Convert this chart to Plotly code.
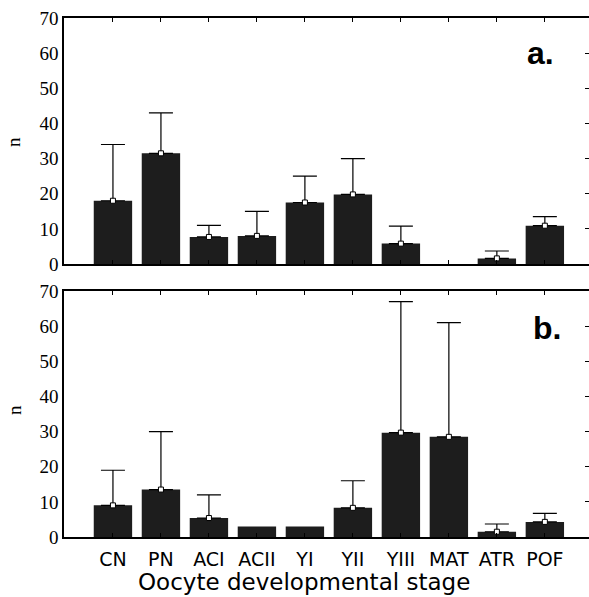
import plotly.graph_objects as go

categories = ["CN", "PN", "ACI", "ACII", "YI", "YII", "YIII", "MAT", "ATR", "POF"]
a_mean = [18.0, 31.5, 7.7, 8.0, 17.5, 19.8, 5.8, 0.0, 1.6, 10.9]
a_upper = [34, 43, 11, 15, 25, 30, 10.8, None, 3.7, 13.5]
b_mean = [9.0, 13.5, 5.4, 3.0, 3.0, 8.3, 29.7, 28.5, 1.5, 4.3]
b_upper = [19, 30, 12, None, None, 16, 67, 61, 3.7, 6.7]
y_ticks = [0, 10, 20, 30, 40, 50, 60, 70]

W, H = 589, 597
ML, MR, MT, MB = 64, 0, 18, 60
PW = W - ML - MR
PH = H - MT - MB


def px_x(x):
    return (x - ML) / PW


def px_y(y):
    return (H - MB - y) / PH


BAR = "#1d1d1d"
SERIF = "Liberation Serif"
fig = go.Figure()

panels = [("x", "y", "y3", a_mean, a_upper), ("x2", "y2", "y4", b_mean, b_upper)]
for xa, ya, yr, mean, upper in panels:
    fig.add_trace(go.Bar(x=categories, y=mean, xaxis=xa, yaxis=ya, width=0.8,
                         marker=dict(color=BAR, line=dict(width=0)), showlegend=False))
    cx = [c for c, u in zip(categories, upper) if u is not None]
    cy = [m for m, u in zip(mean, upper) if u is not None]
    ce = [u - m for m, u in zip(mean, upper) if u is not None]
    fig.add_trace(go.Scatter(x=cx, y=cy, xaxis=xa, yaxis=ya, mode="markers",
                             marker=dict(symbol="square", size=5, color="white",
                                         line=dict(color="black", width=1)),
                             error_y=dict(type="data", symmetric=False, array=ce,
                                          arrayminus=[0] * len(ce), color="black",
                                          thickness=1.2, width=12),
                             showlegend=False))
    fig.add_trace(go.Scatter(x=[categories[0]], y=[0], xaxis=xa, yaxis=yr, mode="markers",
                             marker=dict(opacity=0), showlegend=False, hoverinfo="skip"))

xcommon = dict(type="category", range=[-1.02, 9.92], showline=True, linecolor="black",
               linewidth=1.5, mirror="ticks", ticks="inside", ticklen=4, tickcolor="black",
               tickwidth=1.2, showgrid=False, zeroline=False,
               tickfont=dict(family="DejaVu Sans", size=19, color="black"))
ycommon = dict(range=[0, 70], tickvals=y_ticks, showline=True, linecolor="black",
               linewidth=1.5, ticks="", showgrid=False, zeroline=False,
               tickfont=dict(family=SERIF, size=19, color="black"))
yright = dict(range=[0, 70], tickvals=y_ticks, showline=False, ticks="inside", ticklen=4,
              tickcolor="black", tickwidth=1.2, showticklabels=False, showgrid=False,
              zeroline=False, side="right")

top_dom = [px_y(264), 1.0]
bot_dom = [0.0, px_y(291)]

fig.update_layout(
    width=W, height=H, margin=dict(l=ML, r=MR, t=MT, b=MB, autoexpand=False),
    paper_bgcolor="white", plot_bgcolor="white", bargap=0.2,
    xaxis=dict(xcommon, anchor="y", showticklabels=False),
    xaxis2=dict(xcommon, anchor="y2", showticklabels=True, ticklabelstandoff=4),
    yaxis=dict(ycommon, domain=top_dom, anchor="x"),
    yaxis2=dict(ycommon, domain=bot_dom, anchor="x2"),
    yaxis3=dict(yright, overlaying="y", anchor="x"),
    yaxis4=dict(yright, overlaying="y2", anchor="x2"),
)

ann = []
ann.append(dict(text="Oocyte developmental stage", x=px_x(304), y=px_y(582), xref="paper",
                yref="paper", showarrow=False, xanchor="center", yanchor="middle",
                font=dict(family="DejaVu Sans", size=23, color="black")))
for yy in (142, 410):
    ann.append(dict(text="n", x=px_x(14), y=px_y(yy), xref="paper", yref="paper",
                    showarrow=False, textangle=-90, xanchor="center", yanchor="middle",
                    font=dict(family=SERIF, size=19, color="black")))
for lab, xx, yy in (("a.", 540, 53), ("b.", 547, 328)):
    ann.append(dict(text="<b>" + lab + "</b>", x=px_x(xx), y=px_y(yy), xref="paper",
                    yref="paper", showarrow=False, xanchor="center", yanchor="middle",
                    font=dict(family="Liberation Sans", size=32, color="black")))
fig.update_layout(annotations=ann)

fig.write_html("out.html", config={"displayModeBar": False},
               post_script="document.body.style.margin='0';document.body.style.overflow='hidden';")
